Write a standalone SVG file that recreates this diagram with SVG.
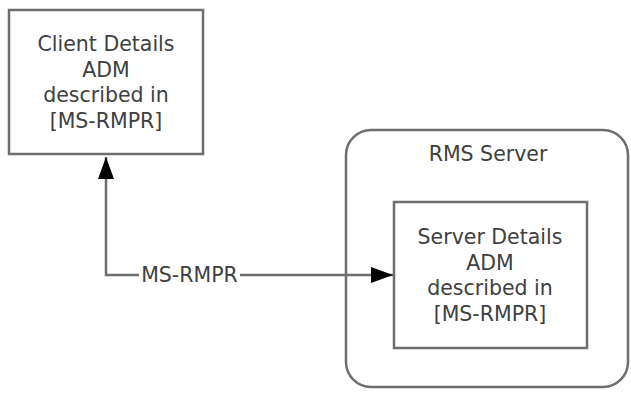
<svg xmlns="http://www.w3.org/2000/svg" width="631" height="394" viewBox="0 0 631 394">
  <style>
    .box { fill: #ffffff; stroke: #6e6e6e; stroke-width: 2.5; }
    .wire { fill: none; stroke: #6e6e6e; stroke-width: 2.5; }
    text { font-family: "DejaVu Sans", Verdana, sans-serif; font-size: 20.5px; fill: #404040; text-anchor: middle; }
  </style>
  <defs>
    <marker id="arrow" markerWidth="22" markerHeight="16" refX="22" refY="8" orient="auto" markerUnits="userSpaceOnUse">
      <path d="M0,0 L22,8 L0,16 Z" fill="#000000"/>
    </marker>
  </defs>

  <g id="rms-server">
    <rect class="box" x="346" y="130" width="282" height="257" rx="25" ry="25"/>
    <text x="488" y="161">RMS Server</text>
  </g>

  <g id="client-details">
    <rect class="box" x="9" y="10" width="194" height="144"/>
    <text x="106" y="51">Client Details</text>
    <text x="106" y="76.5">ADM</text>
    <text x="106" y="102">described in</text>
    <text x="106" y="127.5">[MS-RMPR]</text>
  </g>

  <g id="server-details">
    <rect class="box" x="394" y="202" width="193" height="146"/>
    <text x="490" y="244">Server Details</text>
    <text x="490" y="269.5">ADM</text>
    <text x="490" y="295">described in</text>
    <text x="490" y="320.5">[MS-RMPR]</text>
  </g>

  <g id="connectors">
    <path class="wire" d="M189,275 L106,275 L106,157" marker-end="url(#arrow)"/>
    <path class="wire" d="M189,275 L393,275" marker-end="url(#arrow)"/>
    <rect x="139" y="264" width="101" height="20" fill="#ffffff"/>
    <text x="189.5" y="282">MS-RMPR</text>
  </g>
</svg>
